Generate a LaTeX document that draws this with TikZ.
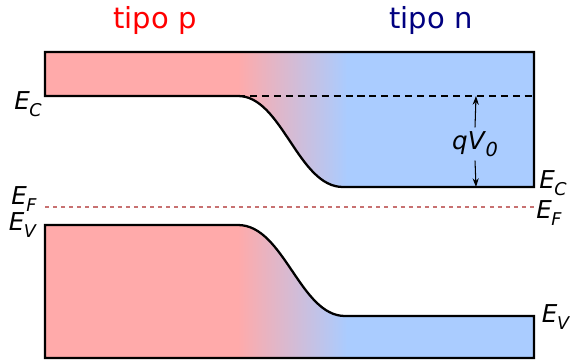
\documentclass[tikz,border=0pt]{standalone}
\usepackage{fontspec}
\setmainfont{DejaVu Sans}
\usetikzlibrary{arrows.meta, positioning}
\definecolor{pred}{RGB}{255,170,170}
\definecolor{nblue}{RGB}{170,204,255}
\definecolor{ptext}{RGB}{255,0,0}
\definecolor{ntext}{RGB}{0,0,128}
\definecolor{fermired}{RGB}{200,113,113}
\pgfdeclarehorizontalshading{pnjunc}{100bp}{color(0bp)=(pred); color(44.7bp)=(pred); color(55.9bp)=(nblue); color(100bp)=(nblue)}
\newcommand{\lvl}[1]{\textit{E}\kern-0.3pt\raisebox{-0.55ex}{\fontsize{10}{12}\selectfont\textit{#1}}}
\tikzset{
  band/.style={draw=black, line width=1.3pt, shade, shading=pnjunc},
  lvllabel/.style={font=\fontsize{14}{16}\selectfont, inner sep=0pt},
  typelabel/.style={font=\fontsize{16.5}{18}\selectfont, inner sep=0pt},
  barrier/.style={line width=1.2pt, dash pattern=on 4pt off 2.8pt},
  fermi/.style={draw=fermired, line width=0.8pt, dash pattern=on 2.3pt off 2.3pt},
  potarrow/.style={-{Stealth[length=5pt, width=3.5pt]}, line width=0.6pt}
}

\begin{document}
\begin{tikzpicture}[x=0.02cm, y=-0.02cm]
  \useasboundingbox (0,0) rectangle (570,362);

  % Headers
  \node[typelabel, text=ptext] (ptype) at (155,20) {tipo p};
  \node[typelabel, text=ntext] (ntype) at (431,20) {tipo n};

  % Conduction band
  \path[band] (45,52) -- (534,52) -- (534,187) -- (343,187)
    .. controls (298,187) and (282,96) .. (238,96) -- (45,96) -- cycle;

  % Valence band
  \path[band] (45,225) -- (238,225) .. controls (284,225) and (300,316) .. (345,316)
    -- (534,316) -- (534,358) -- (45,358) -- cycle;

  % Barrier height
  \coordinate (ectop) at (476,96);
  \coordinate (ecbot) at (476,187);
  \draw[barrier] (238,96) -- (534,96);
  \node[lvllabel, inner sep=2pt] (qv) at (475,144) {\textit{qV}\kern-0.3pt\raisebox{-0.55ex}{\fontsize{11}{12}\selectfont\textit{0}}};
  \draw[potarrow] (qv.north) -- (ectop);
  \draw[potarrow] (qv.south) -- (ecbot);

  % Fermi level
  \draw[fermi] (45,207) -- (534,207);

  % Level labels
  \node[lvllabel] (ecl) at (28,104) {\lvl{C}};
  \node[lvllabel] (efl) at (24,199) {\lvl{F}};
  \node[lvllabel] (evl) at (23,225) {\lvl{V}};
  \node[lvllabel] (ecr) at (553,183) {\lvl{C}};
  \node[lvllabel] (efr) at (549,213) {\lvl{F}};
  \node[lvllabel] (evr) at (556,317) {\lvl{V}};
\end{tikzpicture}
\end{document}
